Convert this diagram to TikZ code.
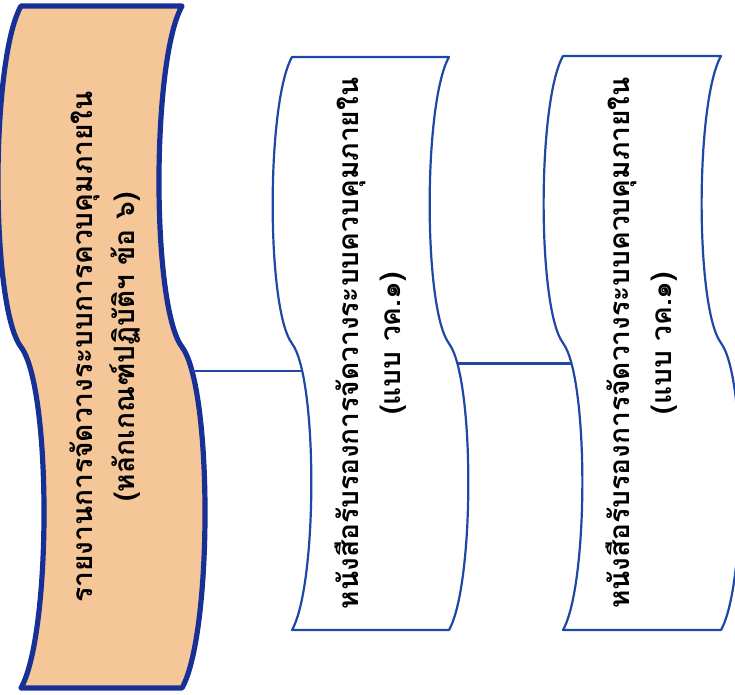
\documentclass[tikz,border=0pt]{standalone}
\usepackage{fontspec}
\newfontfamily\thaifont[Script=Thai]{Loma}
\definecolor{reportfill}{RGB}{245,198,152}
\definecolor{reportline}{RGB}{22,48,150}
\definecolor{certline}{RGB}{30,72,165}
\tikzset{
  tape box/.style={draw=certline, line width=0.55mm, fill=white, line join=round},
  tape box main/.style={draw=reportline, line width=1.3mm, fill=reportfill},
  tape label/.style={
    rotate=90,
    align=center,
    inner sep=0pt,
    font=\thaifont\bfseries\fontsize{20}{30}\selectfont
  },
  tape connector/.style={draw=certline, line width=0.55mm}
}
% #2 name, #3 left, #4 top, #5 width, #6 height
\newcommand{\tapeBox}[6][]{%
  \draw[tape box,#1] (#3,#4)
    .. controls ({#3-0.045*#6},{#4+0.08*#6}) and ({#3-0.045*#6},{#4+0.44*#6}) .. ({#3},{#4+0.5*#6})
    .. controls ({#3+0.045*#6},{#4+0.56*#6}) and ({#3+0.045*#6},{#4+0.92*#6}) .. ({#3},{#4+#6})
    -- ({#3+#5},{#4+#6})
    .. controls ({#3+#5+0.045*#6},{#4+0.92*#6}) and ({#3+#5+0.045*#6},{#4+0.56*#6}) .. ({#3+#5},{#4+0.5*#6})
    .. controls ({#3+#5-0.045*#6},{#4+0.44*#6}) and ({#3+#5-0.045*#6},{#4+0.08*#6}) .. ({#3+#5},{#4})
    -- cycle;%
  \coordinate (#2-w) at ({#3+0.015*#6},{#4+0.535*#6});%
  \coordinate (#2-e) at ({#3+#5+0.015*#6},{#4+0.535*#6});%
  \coordinate (#2-c) at ({#3+#5/2},{#4+#6/2});%
}

\begin{document}
\begin{tikzpicture}[x=0.25mm,y=-0.25mm]
  \useasboundingbox (0,0) rectangle (735,695);

  \tapeBox[tape box main]{report}{21}{6}{161}{682}
  \tapeBox{cert1}{292}{57}{157}{573}
  \tapeBox{cert2}{563}{56}{158}{574}

  \node[tape label] (report label) at ([xshift=1mm]report-c)
    {รายงานการจัดวางระบบการควบคุมภายใน\\(หลักเกณฑ์ปฏิบัติฯ ข้อ ๖)};
  \node[tape label] (cert1 label) at (cert1-c)
    {หนังสือรับรองการจัดวางระบบควบคุมภายใน\\(แบบ วค.๑)};
  \node[tape label] (cert2 label) at (cert2-c)
    {หนังสือรับรองการจัดวางระบบควบคุมภายใน\\(แบบ วค.๑)};

  \draw[tape connector] (report-e) -- (report-e -| cert1-w);
  \draw[tape connector] (cert1-e) -- (cert1-e -| cert2-w);
\end{tikzpicture}
\end{document}
